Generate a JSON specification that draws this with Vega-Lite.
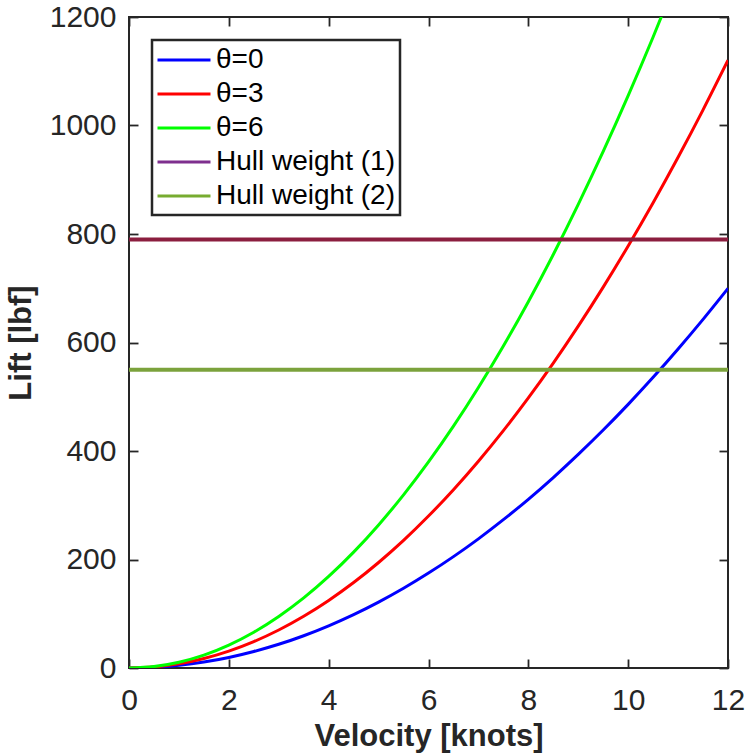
{
  "$schema": "https://vega.github.io/schema/vega-lite/v6.json",
  "width": 599,
  "height": 651,
  "autosize": "none",
  "padding": {"left": 129, "top": 17, "right": 18, "bottom": 85},
  "background": "white",
  "config": {
    "font": "Liberation Sans",
    "view": {"stroke": "#262626", "strokeWidth": 2},
    "axis": {
      "grid": false,
      "zindex": 1,
      "domain": false,
      "offset": -9,
      "ticks": true,
      "tickOpacity": 1,
      "tickColor": "#262626",
      "tickWidth": 1.8,
      "tickSize": 9,
      "labelFlush": false,
      "labelOverlap": false,
      "format": "d",
      "labelFont": "Liberation Sans",
      "labelFontSize": 30,
      "labelColor": "#262626",
      "titleFont": "Liberation Sans",
      "titleFontSize": 31,
      "titleFontWeight": "bold",
      "titleColor": "#262626"
    },
    "legend": {
      "orient": "none",
      "legendX": 23,
      "legendY": 23,
      "strokeColor": "#262626",
      "strokeWidth": 2.5,
      "fillColor": "white",
      "padding": 5,
      "symbolType": "M-2,0H2",
      "symbolSize": 702,
      "symbolOffset": 12,
      "symbolStrokeWidth": 3,
      "labelFont": "Liberation Sans",
      "labelFontSize": 28,
      "labelColor": "#000000",
      "labelOffset": 17,
      "labelLimit": 400,
      "rowPadding": 5
    }
  },
  "datasets": {
    "curves": [
      {"v": 0, "lift": 0, "series": "θ=0"},
      {"v": 0.5, "lift": 1.2, "series": "θ=0"},
      {"v": 1, "lift": 4.9, "series": "θ=0"},
      {"v": 1.5, "lift": 10.9, "series": "θ=0"},
      {"v": 2, "lift": 19.4, "series": "θ=0"},
      {"v": 2.5, "lift": 30.4, "series": "θ=0"},
      {"v": 3, "lift": 43.7, "series": "θ=0"},
      {"v": 3.5, "lift": 59.5, "series": "θ=0"},
      {"v": 4, "lift": 77.8, "series": "θ=0"},
      {"v": 4.5, "lift": 98.4, "series": "θ=0"},
      {"v": 5, "lift": 121.5, "series": "θ=0"},
      {"v": 5.5, "lift": 147.0, "series": "θ=0"},
      {"v": 6, "lift": 175.0, "series": "θ=0"},
      {"v": 6.5, "lift": 205.3, "series": "θ=0"},
      {"v": 7, "lift": 238.1, "series": "θ=0"},
      {"v": 7.5, "lift": 273.4, "series": "θ=0"},
      {"v": 8, "lift": 311.0, "series": "θ=0"},
      {"v": 8.5, "lift": 351.1, "series": "θ=0"},
      {"v": 9, "lift": 393.7, "series": "θ=0"},
      {"v": 9.5, "lift": 438.6, "series": "θ=0"},
      {"v": 10, "lift": 486.0, "series": "θ=0"},
      {"v": 10.5, "lift": 535.8, "series": "θ=0"},
      {"v": 11, "lift": 588.1, "series": "θ=0"},
      {"v": 11.5, "lift": 642.7, "series": "θ=0"},
      {"v": 12, "lift": 699.8, "series": "θ=0"},
      {"v": 0, "lift": 0, "series": "θ=3"},
      {"v": 0.5, "lift": 1.9, "series": "θ=3"},
      {"v": 1, "lift": 7.8, "series": "θ=3"},
      {"v": 1.5, "lift": 17.5, "series": "θ=3"},
      {"v": 2, "lift": 31.1, "series": "θ=3"},
      {"v": 2.5, "lift": 48.6, "series": "θ=3"},
      {"v": 3, "lift": 70.0, "series": "θ=3"},
      {"v": 3.5, "lift": 95.3, "series": "θ=3"},
      {"v": 4, "lift": 124.5, "series": "θ=3"},
      {"v": 4.5, "lift": 157.5, "series": "θ=3"},
      {"v": 5, "lift": 194.5, "series": "θ=3"},
      {"v": 5.5, "lift": 235.3, "series": "θ=3"},
      {"v": 6, "lift": 280.1, "series": "θ=3"},
      {"v": 6.5, "lift": 328.7, "series": "θ=3"},
      {"v": 7, "lift": 381.2, "series": "θ=3"},
      {"v": 7.5, "lift": 437.6, "series": "θ=3"},
      {"v": 8, "lift": 497.9, "series": "θ=3"},
      {"v": 8.5, "lift": 562.1, "series": "θ=3"},
      {"v": 9, "lift": 630.2, "series": "θ=3"},
      {"v": 9.5, "lift": 702.1, "series": "θ=3"},
      {"v": 10, "lift": 778.0, "series": "θ=3"},
      {"v": 10.5, "lift": 857.7, "series": "θ=3"},
      {"v": 11, "lift": 941.4, "series": "θ=3"},
      {"v": 11.5, "lift": 1028.9, "series": "θ=3"},
      {"v": 12, "lift": 1120.3, "series": "θ=3"},
      {"v": 0, "lift": 0, "series": "θ=6"},
      {"v": 0.5, "lift": 2.6, "series": "θ=6"},
      {"v": 1, "lift": 10.6, "series": "θ=6"},
      {"v": 1.5, "lift": 23.7, "series": "θ=6"},
      {"v": 2, "lift": 42.2, "series": "θ=6"},
      {"v": 2.5, "lift": 65.9, "series": "θ=6"},
      {"v": 3, "lift": 95.0, "series": "θ=6"},
      {"v": 3.5, "lift": 129.2, "series": "θ=6"},
      {"v": 4, "lift": 168.8, "series": "θ=6"},
      {"v": 4.5, "lift": 213.6, "series": "θ=6"},
      {"v": 5, "lift": 263.8, "series": "θ=6"},
      {"v": 5.5, "lift": 319.1, "series": "θ=6"},
      {"v": 6, "lift": 379.8, "series": "θ=6"},
      {"v": 6.5, "lift": 445.7, "series": "θ=6"},
      {"v": 7, "lift": 517.0, "series": "θ=6"},
      {"v": 7.5, "lift": 593.4, "series": "θ=6"},
      {"v": 8, "lift": 675.2, "series": "θ=6"},
      {"v": 8.5, "lift": 762.2, "series": "θ=6"},
      {"v": 9, "lift": 854.6, "series": "θ=6"},
      {"v": 9.5, "lift": 952.1, "series": "θ=6"},
      {"v": 10, "lift": 1055.0, "series": "θ=6"},
      {"v": 10.5, "lift": 1163.1, "series": "θ=6"},
      {"v": 11, "lift": 1276.6, "series": "θ=6"}
    ],
    "hull": [
      {"series": "Hull weight (1)", "lift": 790},
      {"series": "Hull weight (2)", "lift": 550}
    ]
  },
  "layer": [
    {
      "data": {"name": "curves"},
      "mark": {"type": "line", "strokeWidth": 3, "interpolate": "monotone", "clip": true},
      "encoding": {
        "x": {"field": "v", "type": "quantitative", "scale": {"domain": [0, 12], "nice": false, "zero": false},
              "axis": {"values": [0, 2, 4, 6, 8, 10, 12], "title": "Velocity [knots]", "orient": "bottom", "ticks": true, "tickSize": 9, "offset": -9, "labelPadding": 17, "titlePadding": 6}},
        "y": {"field": "lift", "type": "quantitative", "scale": {"domain": [0, 1200], "nice": false},
              "axis": {"values": [0, 200, 400, 600, 800, 1000, 1200], "title": "Lift [lbf]", "orient": "left", "ticks": true, "tickSize": 9, "offset": -9, "labelPadding": 13, "titlePadding": 12}},
        "color": {"field": "series", "type": "nominal",
                  "scale": {"domain": ["θ=0", "θ=3", "θ=6", "Hull weight (1)", "Hull weight (2)"],
                            "range": ["#0000FF", "#FF0000", "#00FF00", "#7E2F8E", "#77AC30"]},
                  "legend": {"title": null}}
      }
    },
    {
      "data": {"name": "curves"},
      "mark": {"type": "line", "opacity": 0},
      "encoding": {
        "x": {"field": "v", "type": "quantitative", "axis": {"values": [0, 2, 4, 6, 8, 10, 12], "orient": "top", "ticks": true, "tickSize": 9, "offset": -9, "labels": false, "title": null}},
        "y": {"field": "lift", "type": "quantitative", "axis": {"values": [0, 200, 400, 600, 800, 1000, 1200], "orient": "right", "ticks": true, "tickSize": 9, "offset": -9, "labels": false, "title": null}}
      }
    },
    {
      "data": {"name": "hull"},
      "transform": [{"filter": "datum.series === 'Hull weight (1)'"}],
      "mark": {"type": "rule", "color": "#8B1E3F", "strokeWidth": 4},
      "encoding": {"y": {"field": "lift", "type": "quantitative", "axis": null}}
    },
    {
      "data": {"name": "hull"},
      "transform": [{"filter": "datum.series === 'Hull weight (2)'"}],
      "mark": {"type": "rule", "color": "#7BA23C", "strokeWidth": 4},
      "encoding": {"y": {"field": "lift", "type": "quantitative", "axis": null}}
    }
  ],
  "resolve": {"axis": {"x": "independent", "y": "independent"}}
}
